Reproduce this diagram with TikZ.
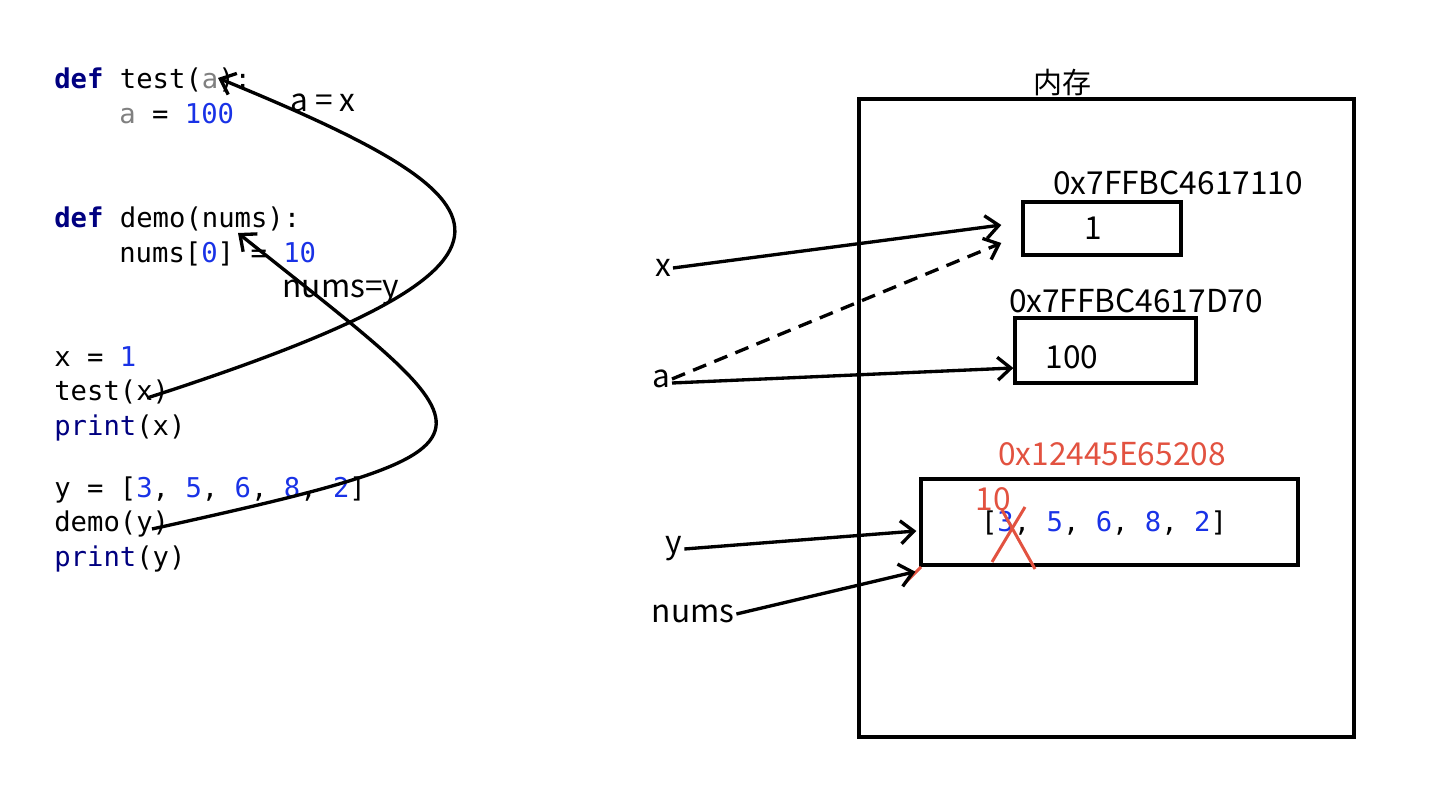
\documentclass[tikz,border=0pt]{standalone}
\usepackage{fontspec}
\setmainfont{Noto Sans CJK SC}
\setmonofont{DejaVu Sans Mono}
\usetikzlibrary{arrows.meta}

\definecolor{pynavy}{RGB}{0,0,128}
\definecolor{pyblue}{RGB}{25,50,230}
\definecolor{pygray}{RGB}{128,128,128}
\definecolor{markred}{RGB}{226,82,64}

\newcommand{\pykw}[1]{\textbf{\color{pynavy}#1}}
\newcommand{\pybi}[1]{{\color{pynavy}#1}}
\newcommand{\pynum}[1]{{\color{pyblue}#1}}
\newcommand{\pygr}[1]{{\color{pygray}#1}}

\begin{document}
\begin{tikzpicture}[
  x=0.02cm, y=-0.02cm,
  code/.style={anchor=base west, inner sep=0pt, font=\ttfamily\fontsize{15.5}{18}\selectfont},
  lbl/.style={inner sep=1pt, font=\fontsize{18}{21}\selectfont},
  cell/.style={draw, line width=1.9pt, inner sep=0pt},
  arr/.style={-{Straight Barb[length=7.5pt,width=13pt]}, line width=1.9pt},
  redmark/.style={draw=markred, line width=1.7pt}
  ]
  \useasboundingbox (0,0) rectangle (1434,800);

  % code
  \node[code] (l1) at (54,89) {\pykw{def} test(\pygr{a}):};
  \node[code] (l2) at (119,124) {\pygr{a} = \pynum{100}};
  \node[code] (l3) at (54,228) {\pykw{def} demo(nums):};
  \node[code] (l4) at (119,263) {nums[\pynum{0}] = \pynum{10}};
  \node[code] (l5) at (54,367) {x = \pynum{1}};
  \node[code] (l6) at (54,401) {test(x)};
  \node[code] (l7) at (54,436) {\pybi{print}(x)};
  \node[code] (l8) at (54,498) {y = [\pynum{3}, \pynum{5}, \pynum{6}, \pynum{8}, \pynum{2}]};
  \node[code] (l9) at (54,532) {demo(y)};
  \node[code] (l10) at (54,566) {\pybi{print}(y)};

  \node[lbl] (ax) at (323,103) {a = x};
  \node[lbl, inner sep=0pt] (numsy) at (341,292) {nums=y};

  \coordinate (argx) at (147,398);
  \coordinate (parama) at (218,78);
  \coordinate (argy) at (152,529);
  \coordinate (paramnums) at (238,233);

  \draw[arr] (argx) .. controls (575,260) and (515,200) .. (parama);
  \draw[arr] (argy) .. controls (533,445) and (498,441) .. (paramnums);

  % memory
  \node[lbl, font=\fontsize{16.5}{19}\selectfont] (memtitle) at (1062,83) {内存};
  \node[cell, minimum width=9.9cm, minimum height=12.76cm] (mem) at (1106.5,418) {};

  \node[lbl] (addr1) at (1178,183) {0x7FFBC4617110};
  \node[cell, minimum width=3.16cm, minimum height=1.06cm] (b1) at (1102,228.5) {};
  \node[lbl] (v1) at (1093,228) {1};

  \node[lbl] (addr2) at (1136,301) {0x7FFBC4617D70};
  \node[cell, minimum width=3.62cm, minimum height=1.3cm] (b2) at (1105.5,350.5) {};
  \node[lbl] (v2) at (1072,357) {100};

  \node[lbl, text=markred] (addr3) at (1112,454) {0x12445E65208};
  \node[cell, minimum width=7.54cm, minimum height=1.72cm] (b3) at (1109.5,522) {};
  \node[code, anchor=center] (v3) at (1104,523) {[\pynum{3}, \pynum{5}, \pynum{6}, \pynum{8}, \pynum{2}]};
  \node[lbl, text=markred] (ten) at (993,499) {10};
  \draw[redmark] (1025,507) -- (992,562);
  \draw[redmark] (1002,510) -- (1035,569);
  \draw[redmark] (905,583) -- (921,567);

  % variables
  \node[lbl] (vx) at (663,268) {x};
  \node[lbl] (va) at (661,379) {a};
  \node[lbl] (vy) at (674,549) {y};
  \node[lbl] (vnums) at (693,614) {nums};

  \draw[arr] (vx.east) -- ([xshift=-0.4cm, yshift=0.07cm]b1.west);
  \draw[arr, dash pattern=on 8pt off 5pt] (va.east) -- ([xshift=-0.4cm, yshift=-0.29cm]b1.west);
  \draw[arr] ([yshift=-0.08cm]va.east) -- ([yshift=-0.35cm]b2.west);
  \draw[arr] (vy.east) -- ([xshift=-0.06cm, yshift=-0.18cm]b3.west);
  \draw[arr] (vnums.east) -- ([xshift=-0.08cm, yshift=-0.1cm]b3.south west);
\end{tikzpicture}
\end{document}
